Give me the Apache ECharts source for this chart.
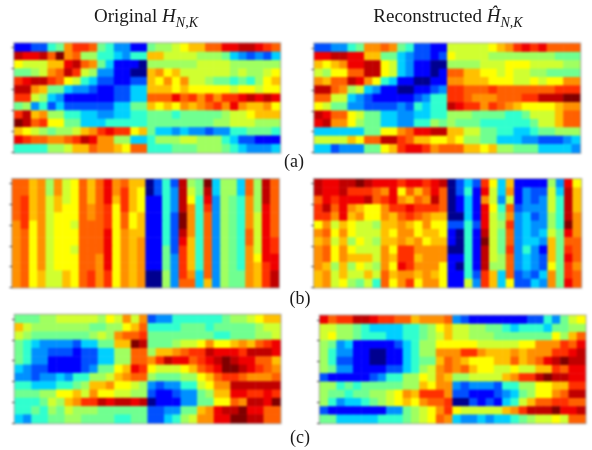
<!DOCTYPE html>
<html>
<head>
<meta charset="utf-8">
<style>
html,body{margin:0;padding:0;background:#fff;width:592px;height:450px;overflow:hidden}
#maps,#text{position:absolute;left:0;top:0;width:592px;height:450px}
#maps{filter:blur(0.8px)}
</style>
<script src="https://cdn.jsdelivr.net/npm/echarts@6/dist/echarts.min.js"></script>
</head>
<body>
<div id="maps"></div>
<div id="text"></div>
<script>
var tickPositions = [0, 2.5, 5, 7.5, 10, 12.5];
var titleOriginal = 'Original ';
var titleReconstructed = 'Reconstructed ';
var panelLabels = ['(a)', '(b)', '(c)'];
var jetStops = ['#00008f','#0000ff','#0050ff','#0090ff','#00d0ff','#30ffcf','#70ff90','#a0ff60','#d0ff30','#ffff00','#ffc000','#ff9000','#ff6000','#ff3000','#f00000','#c00000','#800000'];

var originalA = [
[1,1,2,2,5,6,11,13,13,12,6,5,3,3,1,1,6,7,7,8,9,10,10,12,12,14,14,15,15,14,13,12],
[15,14,14,15,12,16,11,12,7,7,5,5,4,3,5,5,10,10,8,8,8,8,7,7,7,6,4,3,2,3,2,4],
[9,8,8,8,10,10,14,15,12,11,6,4,1,1,1,0,7,7,7,7,7,7,8,8,8,8,7,7,7,7,7,7],
[6,6,7,8,11,12,15,13,8,7,3,3,1,1,0,0,10,11,9,10,8,8,8,8,8,8,7,8,7,7,8,9],
[13,14,15,15,13,12,9,8,5,4,2,2,1,1,2,2,10,9,11,9,11,8,8,7,6,6,5,6,5,7,9,10],
[15,15,11,10,6,6,4,3,3,2,1,1,2,2,4,4,10,10,10,9,10,9,9,9,9,9,8,9,9,8,9,9],
[13,13,8,7,4,3,1,1,1,1,1,1,2,2,4,4,12,12,12,14,12,13,11,13,11,13,13,14,15,14,15,14],
[6,7,3,5,2,4,2,2,2,2,2,2,4,4,6,6,10,9,10,9,11,10,11,12,13,11,14,11,10,10,11,9],
[13,15,10,11,7,7,5,5,4,4,3,3,4,4,5,5,6,6,6,5,6,6,6,6,6,7,8,8,9,10,10,10],
[16,15,12,13,9,9,6,6,4,4,4,5,5,5,5,5,6,6,6,6,6,6,6,6,7,7,8,8,8,7,7,7],
[10,9,8,7,6,7,7,8,10,11,13,14,13,13,9,10,6,4,4,3,4,3,3,2,3,3,5,5,6,6,6,5],
[14,13,12,12,11,11,12,13,15,14,11,11,7,7,4,4,5,7,7,7,8,8,7,7,7,5,4,2,2,1,1,1],
[5,5,5,5,7,7,8,10,10,12,11,11,10,9,12,12,5,5,5,6,6,6,7,7,7,6,5,4,3,3,3,4]
];
var reconstructedA = [
[2,2,3,3,5,6,11,11,12,11,6,5,2,2,1,1,8,8,8,8,8,9,10,11,13,14,13,14,12,12,12,12],
[14,14,15,15,14,14,10,10,6,6,4,3,2,2,1,2,9,8,8,8,8,7,7,7,7,7,7,7,7,6,6,6],
[10,9,10,11,14,14,15,15,9,8,4,3,1,1,0,0,7,7,7,7,8,8,8,9,9,9,8,8,8,8,7,7],
[8,7,9,9,12,12,15,15,9,8,4,3,1,1,0,1,12,12,10,10,9,9,8,9,8,8,7,7,6,6,6,6],
[11,10,12,12,15,14,11,9,5,4,1,1,0,0,1,1,11,11,10,10,10,9,9,9,8,8,9,8,9,9,11,11],
[15,15,12,11,7,8,4,3,1,1,0,0,1,1,2,3,13,13,12,12,12,13,12,12,12,12,12,12,12,13,13,13],
[12,12,8,8,4,3,2,1,1,1,1,1,2,3,5,5,13,13,12,11,11,11,12,12,12,13,13,15,15,15,16,16],
[9,8,6,6,3,3,2,2,2,2,3,2,5,4,5,5,15,14,13,13,11,13,12,11,10,9,9,9,9,10,11,11],
[15,14,12,12,9,8,6,6,4,4,3,3,4,4,5,5,7,7,7,6,6,6,6,5,5,6,8,8,8,10,12,12],
[14,15,11,11,9,7,6,6,4,4,3,3,5,5,7,6,7,6,6,6,5,5,5,5,5,5,6,8,8,10,12,12],
[4,4,4,4,4,4,6,6,9,9,11,12,14,14,15,15,10,10,8,8,6,6,5,5,4,4,5,6,6,7,7,7],
[8,8,8,8,10,9,12,12,15,15,13,12,10,10,9,9,10,9,7,7,6,6,4,4,4,3,3,2,2,2,3,4],
[4,4,2,3,3,3,6,6,9,10,13,14,14,13,11,12,12,12,10,10,9,10,7,7,6,6,6,4,4,4,4,3]
];
/* Panel (b), original: nearly constant columns, so it is listed column by column */
var originalBColumns = [
[12,12,12,12,12,11,11,11,11,11,11,11,11],
[12,12,13,13,13,13,12,12,12,12,12,12,12],
[10,10,10,10,10,9,9,9,9,9,9,9,9],
[11,11,11,11,11,11,11,11,11,11,11,10,10],
[7,7,8,8,8,8,8,8,8,8,8,8,8],
[11,11,10,10,9,9,9,9,9,9,9,8,8],
[8,8,8,9,9,9,9,9,9,9,9,10,10],
[9,9,9,9,9,8,9,9,8,9,9,9,9],
[12,12,12,12,12,12,12,12,12,12,12,12,12],
[10,10,10,11,11,12,12,12,12,12,12,13,13],
[12,12,12,12,12,12,12,12,12,11,11,11,11],
[14,14,14,13,13,13,14,14,14,14,14,13,13],
[11,11,10,9,9,9,9,9,9,9,9,9,9],
[12,13,13,13,12,12,11,11,11,11,11,11,11],
[10,10,10,10,9,9,10,10,10,10,10,10,10],
[10,9,9,9,10,10,10,11,11,11,11,11,11],
[0,0,1,1,1,1,1,1,1,1,1,0,0],
[2,2,1,1,1,1,1,1,1,1,1,0,0],
[5,5,5,5,5,5,5,5,6,6,6,7,7],
[2,3,3,3,2,2,2,2,2,3,3,3,3],
[15,15,15,15,16,16,15,14,13,13,13,13,12],
[7,8,9,11,11,11,11,10,10,10,10,11,12],
[6,6,5,5,5,5,5,5,5,5,5,4,4],
[16,15,14,13,12,12,12,12,12,12,12,12,10],
[4,4,3,3,3,3,3,3,3,3,3,3,3],
[7,7,7,7,7,7,7,7,7,7,7,7,7],
[7,7,6,6,6,6,6,6,6,6,6,6,6],
[4,4,5,5,5,5,5,5,5,5,5,6,6],
[12,12,11,11,11,11,12,12,11,11,11,11,11],
[7,7,7,7,8,8,8,8,8,9,10,10,10],
[15,15,15,14,14,14,14,14,14,14,13,13,13],
[12,12,12,12,12,12,12,13,13,14,14,15,15]
];
var reconstructedB = [
[15,14,14,15,15,16,15,14,14,14,13,14,14,13,14,15,0,2,4,2,13,9,4,10,1,1,1,1,7,3,14,9],
[15,14,14,15,13,13,13,12,11,14,9,12,10,12,14,12,0,2,5,1,14,8,4,11,1,3,2,2,8,4,15,10],
[12,14,13,14,14,14,15,12,13,14,11,10,12,11,15,12,0,1,4,1,11,8,3,8,1,3,2,3,8,5,15,10],
[13,15,12,14,11,10,9,9,11,13,13,14,13,13,13,12,0,1,4,1,14,9,5,12,2,3,3,3,8,5,15,10],
[13,13,11,14,10,11,9,9,11,10,12,13,12,11,10,10,0,0,4,1,14,8,6,11,3,4,2,3,7,5,15,11],
[9,11,8,10,9,8,8,7,10,10,11,10,9,11,9,9,2,2,5,2,14,8,7,13,3,4,3,3,7,5,16,11],
[11,12,9,11,9,8,8,8,10,9,11,11,9,10,10,9,1,0,5,1,15,8,6,12,3,4,3,4,8,6,14,11],
[10,11,8,10,7,9,8,7,10,10,11,10,11,9,10,10,1,0,5,1,16,8,6,12,3,4,4,3,10,6,12,12],
[11,12,9,11,9,8,8,8,11,9,13,13,11,11,11,11,0,0,5,1,15,8,6,13,3,5,3,1,10,6,13,12],
[11,12,9,11,10,10,10,8,11,10,13,13,10,11,11,11,1,1,5,1,15,8,7,12,3,4,3,2,10,6,14,12],
[11,10,7,10,7,9,8,7,11,9,14,13,11,11,11,9,1,0,5,1,15,7,7,12,3,4,3,2,9,6,13,11],
[10,11,8,10,8,8,10,8,12,10,11,11,10,11,10,9,1,1,5,2,13,10,4,12,2,3,2,4,11,6,13,12],
[10,11,8,9,7,6,8,5,12,9,11,13,9,11,11,9,1,1,8,3,13,10,4,9,2,2,4,3,11,6,14,12]
];
var originalC = [
[6,6,6,7,7,8,8,8,8,8,7,9,8,11,8,11,2,3,3,5,5,5,5,5,5,6,7,7,8,9,10,10],
[10,8,7,7,7,7,7,7,7,6,6,7,7,9,10,12,5,5,5,5,6,6,6,5,6,6,6,6,6,7,8,8],
[8,7,6,6,6,6,6,6,6,7,8,7,11,12,12,13,6,6,6,6,6,6,6,6,5,5,6,6,6,7,7,8],
[6,5,4,3,3,3,3,2,4,4,6,6,10,10,16,15,6,6,6,7,8,8,9,11,9,9,10,11,10,12,13,14],
[6,5,3,3,2,2,2,1,2,2,4,4,7,7,12,12,7,10,10,11,12,13,13,15,14,14,14,13,15,15,15,14],
[6,5,3,3,1,1,1,1,2,2,4,4,7,7,12,12,11,13,15,14,14,12,13,14,15,16,15,14,14,12,12,10],
[4,3,2,2,1,1,1,1,2,3,6,6,9,10,14,13,9,8,8,8,9,10,12,13,14,16,16,15,14,13,12,11],
[3,3,2,3,3,4,3,5,5,7,7,8,10,11,12,12,7,6,6,6,7,7,9,10,12,13,13,12,11,11,11,12],
[5,5,4,4,4,5,5,6,7,10,10,11,9,9,8,7,3,2,3,3,5,5,8,9,11,11,15,15,15,15,15,15],
[6,6,6,7,7,9,9,10,8,11,9,9,8,8,7,7,2,1,1,2,3,3,6,7,10,10,14,14,13,13,14,13],
[5,5,5,6,8,7,10,11,13,13,15,14,15,15,14,15,0,1,1,1,3,3,6,6,9,9,12,11,15,15,14,16],
[5,5,6,5,7,6,8,7,7,7,6,6,6,6,6,6,2,2,3,3,6,6,10,11,14,15,15,16,14,14,12,12],
[4,3,5,5,6,6,7,7,6,6,6,6,5,5,6,6,2,2,4,5,7,8,11,11,14,14,16,16,15,15,12,12]
];
var reconstructedC = [
[14,12,13,13,15,15,14,13,13,12,12,10,11,11,11,12,3,2,1,1,1,1,1,1,1,2,2,5,3,6,8,9],
[8,8,7,7,6,5,4,4,4,4,5,5,6,7,9,10,8,8,7,7,6,6,5,4,5,5,5,4,6,6,7,7],
[8,9,7,7,6,5,5,5,4,4,5,5,6,7,8,10,8,8,7,7,7,6,6,6,6,6,6,6,9,7,10,12],
[7,6,3,4,1,1,1,1,1,2,4,5,7,7,9,9,9,9,9,8,8,8,8,8,9,9,11,11,11,13,12,14],
[7,5,3,3,1,1,0,0,1,1,4,5,7,7,11,11,11,13,13,11,10,10,10,11,10,11,11,11,13,13,14,15],
[7,5,2,2,1,1,0,0,1,1,4,5,6,6,10,12,11,10,9,9,9,10,10,12,10,11,12,14,15,16,15,15],
[7,6,3,3,1,1,1,1,2,2,4,5,7,8,11,12,11,12,10,9,9,8,8,9,8,8,10,10,13,12,14,14],
[2,1,1,1,1,1,2,3,5,5,7,7,9,8,11,10,7,7,8,8,8,8,10,11,13,13,15,16,15,15,14,14],
[7,7,5,6,5,6,6,6,6,6,7,7,10,9,11,11,3,2,3,3,3,2,5,5,7,7,9,9,10,10,13,13],
[7,6,6,5,6,6,7,7,8,9,11,10,13,13,13,11,2,2,1,1,1,2,3,4,6,7,9,9,11,12,15,15],
[7,5,3,4,4,5,6,7,8,9,10,9,11,12,12,13,0,0,2,1,2,1,4,5,8,10,12,12,13,13,12,12],
[2,1,1,1,1,1,1,1,3,3,6,7,8,9,11,13,9,8,8,8,8,8,10,11,13,15,15,15,16,14,14,15],
[6,6,4,4,4,4,4,5,5,5,6,7,8,9,12,11,4,3,3,4,3,4,4,5,6,7,8,8,9,8,12,12]
];

function transpose(columns) {
  return columns[0].map(function (_, r) {
    return columns.map(function (c) { return c[r]; });
  });
}
function range(n) {
  var a = [];
  for (var i = 0; i < n; i++) a.push(String(i));
  return a;
}
var panels = [
  { m: originalA,               l: 14.5, t: 43.5, r: 280,   b: 152.5 },
  { m: reconstructedA,          l: 314.5, t: 43.7, r: 580,  b: 152.7 },
  { m: transpose(originalBColumns), l: 12.5, t: 179.3, r: 278.7, b: 287.3 },
  { m: reconstructedB,          l: 314.3, t: 179.3, r: 581,  b: 287.3 },
  { m: originalC,               l: 15,   t: 315,   r: 280.3, b: 423 },
  { m: reconstructedC,          l: 320,  t: 315.7, r: 585.3, b: 423 }
];
var grid = [], xAxis = [], yAxis = [], series = [];
panels.forEach(function (p, i) {
  grid.push({ left: p.l, top: p.t, width: p.r - p.l, height: p.b - p.t, show: true,
    borderColor: '#a8a8a8', borderWidth: 2.5, backgroundColor: 'transparent', containLabel: false });
  xAxis.push({ type: 'category', gridIndex: i, data: range(32), boundaryGap: true,
    axisLine: { show: false }, axisLabel: { show: false }, splitLine: { show: false },
    axisTick: { show: true, alignWithLabel: true, interval: 4, length: 3, lineStyle: { color: '#444', width: 1 } } });
  yAxis.push({ type: 'category', gridIndex: i, data: range(13), inverse: true, boundaryGap: true,
    axisLine: { show: false }, axisLabel: { show: false }, axisTick: { show: false }, splitLine: { show: false } });
  yAxis.push({ type: 'value', gridIndex: i, inverse: true, min: -0.5, max: 12.5, position: 'left',
    axisLine: { show: false }, axisLabel: { show: false }, splitLine: { show: false },
    axisTick: { show: true, length: 3, customValues: tickPositions, lineStyle: { color: '#444', width: 1 } } });
  var data = [];
  p.m.forEach(function (row, r) {
    row.forEach(function (v, c) { data.push([c, r, v]); });
  });
  series.push({ type: 'heatmap', xAxisIndex: i, yAxisIndex: i * 2, data: data, progressive: 0,
    animation: false, itemStyle: { borderWidth: 0 }, emphasis: { disabled: true } });
});
var maps = echarts.init(document.getElementById('maps'), null, { renderer: 'canvas' });
maps.setOption({
  animation: false, backgroundColor: '#fff',
  grid: grid, xAxis: xAxis, yAxis: yAxis, series: series,
  visualMap: { show: false, min: 0, max: 16, seriesIndex: [0,1,2,3,4,5], dimension: 2, inRange: { color: jetStops } }
});

var serif = '"Liberation Serif", "Times New Roman", serif';
var rich = {
  r: { fontFamily: serif, fontWeight: 'normal', fontSize: 19, color: '#1a1a1a', lineHeight: 26, verticalAlign: 'middle' },
  h: { fontFamily: serif, fontWeight: 'normal', fontStyle: 'italic', fontSize: 19, color: '#1a1a1a', lineHeight: 26, verticalAlign: 'middle' },
  s: { fontFamily: serif, fontWeight: 'normal', fontStyle: 'italic', fontSize: 14, color: '#1a1a1a', lineHeight: 26, verticalAlign: 'bottom' }
};
var titleStyle = { rich: rich, fontSize: 19, fontWeight: 'normal' };
var labelStyle = { fontFamily: serif, fontSize: 18, fontWeight: 'normal', color: '#1a1a1a' };
var text = echarts.init(document.getElementById('text'), null, { renderer: 'canvas' });
text.setOption({
  animation: false, backgroundColor: 'transparent',
  title: [
    { text: '{r|' + titleOriginal + '}{h|H}{s|N,K}', left: 141, top: -1, textAlign: 'center', textStyle: titleStyle },
    { text: '{r|' + titleReconstructed + '}{h|\u0124}{s|N,K}', left: 443, top: -1, textAlign: 'center', textStyle: titleStyle },
    { text: panelLabels[0], left: 289, top: 148, textAlign: 'center', textStyle: labelStyle },
    { text: panelLabels[1], left: 295, top: 285, textAlign: 'center', textStyle: labelStyle },
    { text: panelLabels[2], left: 295, top: 424, textAlign: 'center', textStyle: labelStyle }
  ]
});
</script>
</body>
</html>
